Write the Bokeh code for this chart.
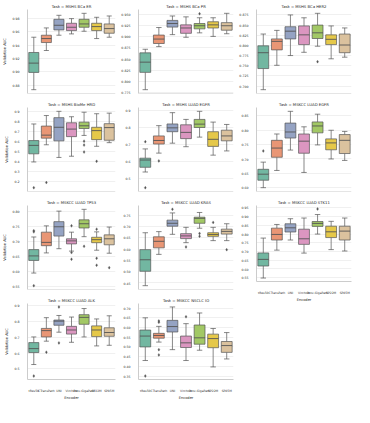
from bokeh.plotting import figure
from bokeh.models import ColumnDataSource, Range1d, FixedTicker, NumeralTickFormatter, Span
from bokeh.layouts import row, column
from bokeh.transform import dodge
from bokeh.embed import file_html
from bokeh.resources import INLINE

ENCODERS = ["tRes50", "CTransPath", "UNI", "Virchow", "Prov-GigaPath", "SP22M", "SP85M"]
COLORS = ["#72b7a1", "#e99675", "#95a3c3", "#db96c0", "#a2c865", "#e5c849", "#dbc29e"]

# ---- MSHS BCa ER
ER_LO = [0.873, 0.932, 0.955, 0.957, 0.961, 0.950, 0.952]
ER_Q1 = [0.899, 0.944, 0.963, 0.962, 0.967, 0.962, 0.958]
ER_MED = [0.913, 0.950, 0.970, 0.967, 0.972, 0.968, 0.965]
ER_Q3 = [0.929, 0.955, 0.979, 0.973, 0.979, 0.973, 0.972]
ER_HI = [0.952, 0.966, 0.985, 0.980, 0.988, 0.982, 0.984]
ER_OUT_ENC = []
ER_OUT_VAL = []
ER_TICKS = [0.88, 0.90, 0.92, 0.94, 0.96, 0.98]

# ---- MSHS BCa PR
PR_LO = [0.781, 0.878, 0.905, 0.899, 0.909, 0.901, 0.907]
PR_Q1 = [0.820, 0.885, 0.922, 0.908, 0.918, 0.920, 0.915]
PR_MED = [0.843, 0.895, 0.930, 0.920, 0.925, 0.927, 0.925]
PR_Q3 = [0.864, 0.904, 0.937, 0.927, 0.930, 0.934, 0.932]
PR_HI = [0.872, 0.921, 0.947, 0.945, 0.943, 0.943, 0.953]
PR_OUT_ENC = ["Prov-GigaPath"]
PR_OUT_VAL = [0.952]
PR_TICKS = [0.775, 0.800, 0.825, 0.850, 0.875, 0.900, 0.925, 0.950]

# ---- MSHS BCa HER2
HER2_LO = [0.691, 0.751, 0.775, 0.783, 0.798, 0.767, 0.771]
HER2_Q1 = [0.743, 0.789, 0.816, 0.802, 0.817, 0.802, 0.782]
HER2_MED = [0.782, 0.810, 0.835, 0.826, 0.831, 0.815, 0.801]
HER2_Q3 = [0.799, 0.816, 0.846, 0.848, 0.850, 0.826, 0.828]
HER2_HI = [0.828, 0.837, 0.875, 0.868, 0.879, 0.848, 0.843]
HER2_OUT_ENC = ["Prov-GigaPath"]
HER2_OUT_VAL = [0.760]
HER2_TICKS = [0.700, 0.725, 0.750, 0.775, 0.800, 0.825, 0.850, 0.875]

# ---- MSHS BioMe HRD
HRD_LO = [0.396, 0.567, 0.441, 0.453, 0.660, 0.552, 0.588]
HRD_Q1 = [0.477, 0.633, 0.606, 0.648, 0.729, 0.618, 0.612]
HRD_MED = [0.561, 0.663, 0.741, 0.723, 0.756, 0.708, 0.738]
HRD_Q3 = [0.609, 0.753, 0.837, 0.786, 0.792, 0.741, 0.777]
HRD_HI = [0.774, 0.858, 0.900, 0.846, 0.891, 0.876, 0.882]
HRD_OUT_ENC = ["tRes50", "CTransPath", "Prov-GigaPath", "Prov-GigaPath", "Prov-GigaPath", "SP22M"]
HRD_OUT_VAL = [0.140, 0.191, 0.603, 0.564, 0.495, 0.402]
HRD_TICKS = [0.2, 0.3, 0.4, 0.5, 0.6, 0.7, 0.8, 0.9]

# ---- MSHS LUAD EGFR
MEGFR_LO = [0.536, 0.648, 0.707, 0.686, 0.743, 0.636, 0.661]
MEGFR_Q1 = [0.564, 0.702, 0.775, 0.734, 0.800, 0.688, 0.721]
MEGFR_MED = [0.607, 0.723, 0.798, 0.771, 0.820, 0.730, 0.750]
MEGFR_Q3 = [0.618, 0.750, 0.821, 0.816, 0.848, 0.775, 0.784]
MEGFR_HI = [0.673, 0.811, 0.888, 0.848, 0.896, 0.832, 0.818]
MEGFR_OUT_ENC = ["tRes50", "tRes50", "CTransPath"]
MEGFR_OUT_VAL = [0.716, 0.443, 0.602]
MEGFR_TICKS = [0.5, 0.6, 0.7, 0.8, 0.9]

# ---- MSKCC LUAD EGFR
KEGFR_LO = [0.600, 0.660, 0.731, 0.653, 0.749, 0.700, 0.695]
KEGFR_Q1 = [0.626, 0.706, 0.773, 0.720, 0.791, 0.732, 0.719]
KEGFR_MED = [0.647, 0.738, 0.794, 0.762, 0.815, 0.756, 0.765]
KEGFR_Q3 = [0.664, 0.765, 0.825, 0.787, 0.829, 0.770, 0.785]
KEGFR_HI = [0.689, 0.787, 0.866, 0.812, 0.856, 0.800, 0.796]
KEGFR_OUT_ENC = ["tRes50"]
KEGFR_OUT_VAL = [0.728]
KEGFR_TICKS = [0.60, 0.65, 0.70, 0.75, 0.80, 0.85]

# ---- MSKCC LUAD TP53
TP53_LO = [0.596, 0.663, 0.677, 0.669, 0.717, 0.672, 0.662]
TP53_Q1 = [0.638, 0.687, 0.719, 0.693, 0.746, 0.697, 0.690]
TP53_MED = [0.653, 0.698, 0.750, 0.703, 0.760, 0.707, 0.710]
TP53_Q3 = [0.674, 0.732, 0.767, 0.710, 0.773, 0.715, 0.723]
TP53_HI = [0.716, 0.753, 0.802, 0.732, 0.808, 0.733, 0.749]
TP53_OUT_ENC = ["tRes50", "tRes50", "tRes50", "Virchow", "Virchow", "Virchow",
                "Prov-GigaPath", "SP22M", "SP22M", "SP22M", "SP85M"]
TP53_OUT_VAL = [0.733, 0.737, 0.554, 0.753, 0.664, 0.642, 0.685, 0.742, 0.645, 0.622, 0.614]
TP53_TICKS = [0.55, 0.60, 0.65, 0.70, 0.75, 0.80]

# ---- MSKCC LUAD KRAS
KRAS_LO = [0.438, 0.577, 0.666, 0.629, 0.693, 0.638, 0.638]
KRAS_Q1 = [0.502, 0.606, 0.702, 0.647, 0.715, 0.657, 0.667]
KRAS_MED = [0.553, 0.635, 0.715, 0.659, 0.737, 0.665, 0.679]
KRAS_Q3 = [0.598, 0.655, 0.729, 0.669, 0.742, 0.673, 0.689]
KRAS_HI = [0.673, 0.678, 0.761, 0.697, 0.763, 0.697, 0.713]
KRAS_OUT_ENC = ["UNI", "Virchow", "Prov-GigaPath", "Prov-GigaPath", "SP22M", "SP85M"]
KRAS_OUT_VAL = [0.777, 0.610, 0.670, 0.657, 0.719, 0.598]
KRAS_TICKS = [0.45, 0.50, 0.55, 0.60, 0.65, 0.70, 0.75]

# ---- MSKCC LUAD STK11
STK11_LO = [0.548, 0.708, 0.766, 0.691, 0.800, 0.711, 0.703]
STK11_Q1 = [0.617, 0.766, 0.812, 0.741, 0.844, 0.780, 0.766]
STK11_MED = [0.655, 0.798, 0.836, 0.773, 0.861, 0.813, 0.817]
STK11_Q3 = [0.692, 0.834, 0.859, 0.828, 0.872, 0.845, 0.845]
STK11_HI = [0.777, 0.855, 0.888, 0.892, 0.912, 0.873, 0.892]
STK11_OUT_ENC = ["Prov-GigaPath"]
STK11_OUT_VAL = [0.944]
STK11_TICKS = [0.55, 0.60, 0.65, 0.70, 0.75, 0.80, 0.85, 0.90, 0.95]

# ---- MSKCC LUAD ALK
ALK_LO = [0.528, 0.676, 0.733, 0.669, 0.703, 0.646, 0.650]
ALK_Q1 = [0.604, 0.703, 0.777, 0.721, 0.783, 0.705, 0.707]
ALK_MED = [0.629, 0.743, 0.803, 0.747, 0.827, 0.747, 0.731]
ALK_Q3 = [0.667, 0.757, 0.810, 0.770, 0.844, 0.773, 0.761]
ALK_HI = [0.703, 0.825, 0.839, 0.829, 0.883, 0.817, 0.837]
ALK_OUT_ENC = ["tRes50", "CTransPath", "UNI", "UNI"]
ALK_OUT_VAL = [0.455, 0.606, 0.893, 0.665]
ALK_TICKS = [0.5, 0.6, 0.7, 0.8, 0.9]

# ---- MSKCC NSCLC IO
IO_LO = [0.430, 0.525, 0.486, 0.430, 0.483, 0.397, 0.438]
IO_Q1 = [0.500, 0.545, 0.577, 0.497, 0.514, 0.496, 0.472]
IO_MED = [0.556, 0.559, 0.605, 0.521, 0.547, 0.543, 0.507]
IO_Q3 = [0.587, 0.570, 0.637, 0.556, 0.613, 0.566, 0.528]
IO_HI = [0.650, 0.606, 0.706, 0.620, 0.675, 0.595, 0.574]
IO_OUT_ENC = ["tRes50", "CTransPath", "CTransPath", "CTransPath", "CTransPath", "Virchow"]
IO_OUT_VAL = [0.350, 0.634, 0.627, 0.486, 0.459, 0.655]
IO_TICKS = [0.35, 0.40, 0.45, 0.50, 0.55, 0.60, 0.65, 0.70]

LINE = "#555555"
FONT = "DejaVu Sans"


def panel(title, lo, q1, med, q3, hi, oe, ov, ticks, fmt, first_col, bottom, h):
    src = ColumnDataSource(dict(enc=ENCODERS, lo=lo, q1=q1, med=med, q3=q3, hi=hi, color=COLORS))
    ymin = min(lo + ov)
    ymax = max(hi + ov)
    pad = 0.05 * (ymax - ymin)
    p = figure(x_range=ENCODERS, y_range=Range1d(ymin - pad, ymax + pad),
               width=118, height=h, output_backend="svg", toolbar_location=None,
               min_border_left=14 if first_col else 13, min_border_right=3,
               min_border_top=8, min_border_bottom=13 if bottom else 5,
               title="Task = " + title)
    p.title.text_font = FONT
    p.title.text_font_size = "3.8px"
    p.title.text_font_style = "normal"
    p.title.align = "center"
    p.title.text_color = "#262626"
    p.title.standoff = 2
    p.outline_line_color = None
    p.background_fill_color = "white"
    p.xgrid.grid_line_color = None
    p.ygrid.grid_line_color = "#e6e6e6"
    p.ygrid.grid_line_width = 0.6

    xr = p.x_range
    # whiskers
    p.segment(x0="enc", y0="q3", x1="enc", y1="hi", source=src, line_color=LINE, line_width=0.7)
    p.segment(x0="enc", y0="lo", x1="enc", y1="q1", source=src, line_color=LINE, line_width=0.7)
    p.segment(x0=dodge("enc", -0.2, range=xr), y0="hi", x1=dodge("enc", 0.2, range=xr), y1="hi",
              source=src, line_color=LINE, line_width=0.7)
    p.segment(x0=dodge("enc", -0.2, range=xr), y0="lo", x1=dodge("enc", 0.2, range=xr), y1="lo",
              source=src, line_color=LINE, line_width=0.7)
    # boxes
    p.vbar(x="enc", width=0.8, bottom="q1", top="q3", source=src,
           fill_color="color", line_color=LINE, line_width=0.7)
    # medians
    p.segment(x0=dodge("enc", -0.4, range=xr), y0="med", x1=dodge("enc", 0.4, range=xr), y1="med",
              source=src, line_color=LINE, line_width=0.9)
    # outliers
    if oe:
        osrc = ColumnDataSource(dict(enc=oe, val=ov))
        p.scatter(x="enc", y="val", source=osrc, marker="diamond", size=3.0,
                  fill_color=LINE, line_color=LINE, line_width=0.3)

    p.yaxis.ticker = FixedTicker(ticks=ticks)
    p.yaxis.formatter = NumeralTickFormatter(format=fmt)
    p.yaxis.major_label_text_font = FONT
    p.yaxis.major_label_text_font_size = "3.2px"
    p.yaxis.major_label_text_color = "#333333"
    p.yaxis.major_label_standoff = 2
    p.yaxis.major_tick_line_color = None
    p.yaxis.minor_tick_line_color = None
    p.yaxis.axis_line_color = "#cccccc"
    if first_col:
        p.yaxis.axis_label = "Validation AUC"
        p.yaxis.axis_label_text_font = FONT
        p.yaxis.axis_label_text_font_size = "3.6px"
        p.yaxis.axis_label_text_font_style = "normal"
        p.yaxis.axis_label_text_color = "#262626"
        p.yaxis.axis_label_standoff = 2

    if bottom:
        p.xaxis.major_label_text_font = FONT
        p.xaxis.major_label_text_font_size = "3px"
        p.xaxis.major_label_text_color = "#333333"
        p.xaxis.major_label_standoff = 3
        p.xaxis.major_tick_line_color = None
        p.xaxis.axis_line_color = "#cccccc"
        p.xaxis.axis_label = "Encoder"
        p.xaxis.axis_label_text_font = FONT
        p.xaxis.axis_label_text_font_size = "3.6px"
        p.xaxis.axis_label_text_font_style = "normal"
        p.xaxis.axis_label_text_color = "#262626"
        p.xaxis.axis_label_standoff = 1
    else:
        p.xaxis.visible = False
        p.add_layout(Span(location=ymin - pad, dimension="width", line_color="#cccccc", line_width=1))
    return p


H = 98
HB = 108
p1 = panel("MSHS BCa ER", ER_LO, ER_Q1, ER_MED, ER_Q3, ER_HI, ER_OUT_ENC, ER_OUT_VAL, ER_TICKS, "0.00", True, False, H)
p2 = panel("MSHS BCa PR", PR_LO, PR_Q1, PR_MED, PR_Q3, PR_HI, PR_OUT_ENC, PR_OUT_VAL, PR_TICKS, "0.000", False, False, H)
p3 = panel("MSHS BCa HER2", HER2_LO, HER2_Q1, HER2_MED, HER2_Q3, HER2_HI, HER2_OUT_ENC, HER2_OUT_VAL, HER2_TICKS, "0.000", False, False, H)
p4 = panel("MSHS BioMe HRD", HRD_LO, HRD_Q1, HRD_MED, HRD_Q3, HRD_HI, HRD_OUT_ENC, HRD_OUT_VAL, HRD_TICKS, "0.0", True, False, H)
p5 = panel("MSHS LUAD EGFR", MEGFR_LO, MEGFR_Q1, MEGFR_MED, MEGFR_Q3, MEGFR_HI, MEGFR_OUT_ENC, MEGFR_OUT_VAL, MEGFR_TICKS, "0.0", False, False, H)
p6 = panel("MSKCC LUAD EGFR", KEGFR_LO, KEGFR_Q1, KEGFR_MED, KEGFR_Q3, KEGFR_HI, KEGFR_OUT_ENC, KEGFR_OUT_VAL, KEGFR_TICKS, "0.00", False, False, H)
p7 = panel("MSKCC LUAD TP53", TP53_LO, TP53_Q1, TP53_MED, TP53_Q3, TP53_HI, TP53_OUT_ENC, TP53_OUT_VAL, TP53_TICKS, "0.00", True, False, H)
p8 = panel("MSKCC LUAD KRAS", KRAS_LO, KRAS_Q1, KRAS_MED, KRAS_Q3, KRAS_HI, KRAS_OUT_ENC, KRAS_OUT_VAL, KRAS_TICKS, "0.00", False, False, H)
p9 = panel("MSKCC LUAD STK11", STK11_LO, STK11_Q1, STK11_MED, STK11_Q3, STK11_HI, STK11_OUT_ENC, STK11_OUT_VAL, STK11_TICKS, "0.00", False, True, HB)
p10 = panel("MSKCC LUAD ALK", ALK_LO, ALK_Q1, ALK_MED, ALK_Q3, ALK_HI, ALK_OUT_ENC, ALK_OUT_VAL, ALK_TICKS, "0.0", True, True, HB)
p11 = panel("MSKCC NSCLC IO", IO_LO, IO_Q1, IO_MED, IO_Q3, IO_HI, IO_OUT_ENC, IO_OUT_VAL, IO_TICKS, "0.00", False, True, HB)

layout = row(column(p1, p4, p7, p10), column(p2, p5, p8, p11), column(p3, p6, p9))

with open("out.html", "w") as f:
    f.write(file_html(layout, INLINE))
